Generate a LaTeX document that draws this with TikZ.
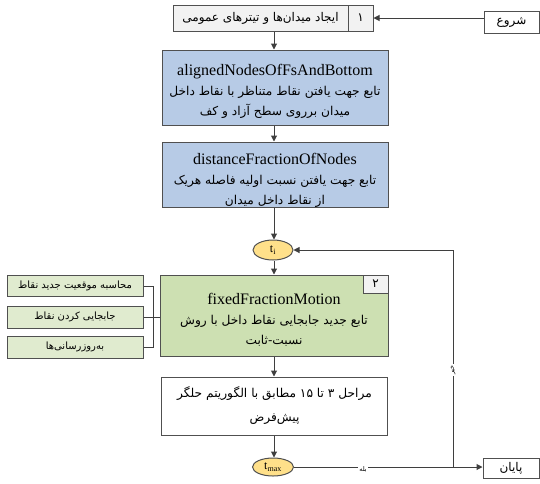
\documentclass[tikz,border=0pt]{standalone}
\usepackage{fontspec}
\setmainfont{Liberation Serif}
\newfontfamily\farsi[Script=Arabic]{DejaVu Sans}
\TeXXeTstate=1
\usetikzlibrary{arrows.meta,shapes.geometric}
\newcommand\rtl[1]{{\farsi\beginR #1\endR}}
\definecolor{linegray}{HTML}{3F3F3F}
\definecolor{boxedge}{HTML}{505050}
\definecolor{bluefill}{HTML}{B7CBE6}
\definecolor{greenfill}{HTML}{CDE0B2}
\definecolor{lightgreen}{HTML}{E0EBCF}
\definecolor{yellowfill}{HTML}{FFE08A}
\definecolor{grayfill}{HTML}{F2F2F2}
\begin{document}
\begin{tikzpicture}[x=1pt,y=-1pt,
  line/.style={draw=linegray, line width=1pt},
  arr/.style={line, -{Triangle[length=6pt,width=6pt]}},
  box/.style={draw=boxedge, line width=1pt, rectangle, inner sep=0pt, align=center},
  fabox/.style={box, font=\fontsize{12}{20}\selectfont},
  txt/.style={inner sep=0pt, align=center, font=\fontsize{12.2}{20}\selectfont},
  sidebox/.style={box, fill=lightgreen, minimum width=136pt, font=\fontsize{10}{11}\selectfont},
  oval/.style={ellipse, draw=boxedge, line width=1pt, fill=yellowfill, inner sep=0pt, font=\fontsize{12}{12}\selectfont},
  lbl/.style={fill=white, inner sep=1pt, font=\fontsize{6.5}{7}\selectfont},
  ttl/.style={font=\fontsize{16}{20}\selectfont}]
\useasboundingbox (0,0) rectangle (540,483);
\coordinate (col) at (274,0);
\coordinate (brk) at (153,0);
\coordinate (jn) at (453,0);

% step 1 and start
\node[fabox, fill=grayfill, minimum width=175pt, minimum height=26pt] (init) at (260.5,18) {\rtl{ایجاد میدان‌ها و تیترهای عمومی}};
\node[fabox, fill=grayfill, minimum width=25pt, minimum height=26pt] (n1) at (360.5,18) {\rtl{۱}};
\node[fabox, fill=white, minimum width=55pt, minimum height=22pt] (start) at (511.5,22) {\rtl{شروع}};

% function boxes with their texts
\node[box, fill=bluefill, minimum width=226pt, minimum height=75pt] (blue1) at (275,87.5) {};
\node[txt] (blue1txt) at ([yshift=-4pt]blue1.center)
  {{\fontsize{16}{20}\selectfont alignedNodesOfFsAndBottom}\\ \rtl{تابع جهت یافتن نقاط متناظر با نقاط داخل}\\ \rtl{میدان برروی سطح آزاد و کف}};

\node[box, fill=bluefill, minimum width=226pt, minimum height=65pt] (blue2) at (275,174.5) {};
\node[txt] (blue2txt) at ([yshift=-6pt]blue2.center)
  {{\fontsize{16}{20}\selectfont distanceFractionOfNodes}\\ \rtl{تابع جهت یافتن نسبت اولیه فاصله هریک}\\ \rtl{از نقاط داخل میدان}};

\node[oval, minimum width=40pt, minimum height=20pt] (ti) at (273,250) {t\textsubscript{i}};

\node[box, fill=greenfill, minimum width=228pt, minimum height=81pt] (green) at (274,315.5) {};
\node[txt] (greentxt) at ([yshift=-4pt]green.center)
  {{\fontsize{16}{20}\selectfont fixedFractionMotion}\\ \rtl{تابع جدید جابجایی نقاط داخل با روش}\\ \rtl{نسبت-ثابت}};
\node[fabox, fill=grayfill, minimum width=25pt, minimum height=18pt, anchor=north east] (n2) at (green.north east) {\rtl{۲}};

% side tasks
\node[sidebox, minimum height=21pt] (lb1) at (75,286) {\rtl{محاسبه موقعیت جدید نقاط}};
\node[sidebox, minimum height=22pt] (lb2) at (75,317) {\rtl{جابجایی کردن نقاط}};
\node[sidebox, minimum height=22pt] (lb3) at (75,347) {\rtl{به‌روزرسانی‌ها}};

\node[box, fill=white, minimum width=226pt, minimum height=58pt] (steps) at (274.5,406) {};
\node[txt, font=\fontsize{12.2}{24}\selectfont] (stepstxt) at (steps.center)
  {\rtl{مراحل ۳ تا \beginL۱۵\endL{} مطابق با الگوریتم حلگر}\\ \rtl{پیش‌فرض}};

\node[oval, minimum width=41pt, minimum height=18pt] (tmax) at (273,467) {t\textsubscript{max}};
\node[fabox, fill=white, minimum width=56pt, minimum height=20pt] (endn) at (511,468) {\rtl{پایان}};

% flow
\draw[arr] (start.west |- n1.east) -- (n1.east);
\draw[arr] (init.south -| col) -- (blue1.north -| col);
\draw[arr] (blue1.south -| col) -- (blue2.north -| col);
\draw[arr] (blue2.south -| col) -- (ti.north -| col);
\draw[arr] (ti.south -| col) -- (green.north -| col);
\draw[arr] (green.south -| col) -- (steps.north -| col);
\draw[arr] (steps.south -| col) -- (tmax.north -| col);
\draw[arr] (tmax.east) -- (tmax.east -| endn.west);
\draw[arr] (tmax.east -| jn) -- (ti.east -| jn) -- (ti.east);

% bracket to the side tasks
\draw[line] (lb1.east) -- (lb1.east -| brk) -- (lb3.east -| brk) -- (lb3.east);
\draw[line] (lb2.east) -- (lb2.east -| green.west);

% branch labels
\node[lbl] (yes) at (363,469) {\rtl{بله}};
\node[lbl, rotate=90] (no) at (453,370) {\rtl{خیر}};
\end{tikzpicture}
\end{document}
